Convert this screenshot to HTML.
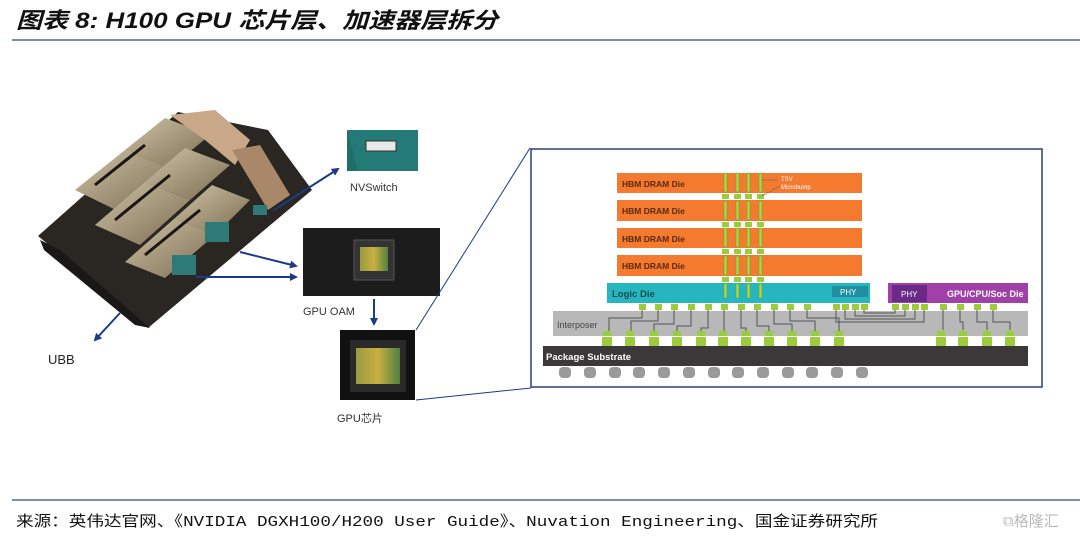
<!DOCTYPE html>
<html><head><meta charset="utf-8"><style>
html,body{margin:0;padding:0;background:#fff;}
body{width:1080px;height:540px;overflow:hidden;position:relative;font-family:"Liberation Sans","Noto Sans CJK SC",sans-serif;}
</style></head><body>
<svg width="1080" height="540" xmlns="http://www.w3.org/2000/svg" style="position:absolute;left:0;top:0">
<defs>
<marker id="ah" markerWidth="8" markerHeight="8" refX="6" refY="4" orient="auto" markerUnits="userSpaceOnUse"><path d="M0,0 L8,4 L0,8 z" fill="#1a3a8a"/></marker>
<linearGradient id="gold" x1="0" y1="0" x2="1" y2="1"><stop offset="0" stop-color="#cfc3a6"/><stop offset="1" stop-color="#7a6c50"/></linearGradient>
<linearGradient id="die" x1="0" y1="0" x2="1" y2="0"><stop offset="0" stop-color="#9a9a40"/><stop offset="0.5" stop-color="#c8b040"/><stop offset="1" stop-color="#508040"/></linearGradient>
</defs>
<text x="16" y="28" font-size="22" font-weight="bold" font-style="italic" fill="#111" textLength="482" lengthAdjust="spacingAndGlyphs" font-family="'Liberation Sans','Noto Sans CJK SC',sans-serif">图表 8: H100 GPU 芯片层、加速器层拆分</text>
<line x1="12" y1="40" x2="1080" y2="40" stroke="#4a6a8a" stroke-width="1.5"/>
<!-- board photo approximation -->
<polygon points="38,236 178,112 268,130 312,190 148,328" fill="#2a2622"/>
<polygon points="40,240 60,250 150,328 135,325 44,250" fill="#1a1816"/>
<polygon points="75,190 125,150 170,168 120,212" fill="url(#gold)"/>
<polygon points="125,150 165,118 210,135 170,168" fill="url(#gold)"/>
<polygon points="95,225 145,182 190,200 140,245" fill="url(#gold)"/>
<polygon points="145,182 185,148 230,165 190,200" fill="url(#gold)"/>
<polygon points="125,262 175,218 215,235 165,278" fill="url(#gold)"/>
<polygon points="175,218 212,185 250,200 215,235" fill="url(#gold)"/>
<g stroke="#1a1612" stroke-width="3"><line x1="95" y1="185" x2="145" y2="145"/><line x1="115" y1="220" x2="170" y2="175"/><line x1="145" y1="255" x2="200" y2="210"/></g>
<polygon points="170,115 215,110 250,140 235,165 205,140" fill="#c8a888"/>
<polygon points="232,150 260,145 290,195 268,210" fill="#a88868"/>
<rect x="205" y="222" width="24" height="20" fill="#2e7a78"/>
<rect x="172" y="255" width="24" height="20" fill="#2e7a78"/>
<rect x="253" y="205" width="14" height="10" fill="#2e7a78"/>
<text x="48" y="364" font-size="13" fill="#222">UBB</text>
<line x1="120" y1="313" x2="95" y2="340" stroke="#1a3a8a" stroke-width="2" marker-end="url(#ah)"/>
<!-- NVSwitch -->
<rect x="347" y="130" width="71" height="41" fill="#1f6e6a"/>
<polygon points="347,130 418,130 418,171 358,171" fill="#237a76"/>
<rect x="366" y="141" width="30" height="10" fill="#e8e8e8" stroke="#333"/>
<text x="350" y="191" font-size="11" fill="#333">NVSwitch</text>
<line x1="274" y1="210" x2="338" y2="169" stroke="#1a3a8a" stroke-width="2" marker-end="url(#ah)"/>
<!-- GPU OAM -->
<rect x="303" y="228" width="137" height="68" fill="#1c1c1c"/>
<rect x="354" y="240" width="40" height="40" fill="#333" stroke="#555"/>
<rect x="360" y="247" width="28" height="24" fill="url(#die)"/>
<text x="303" y="315" font-size="11" fill="#333">GPU OAM</text>
<line x1="240" y1="252" x2="296" y2="266" stroke="#1a3a8a" stroke-width="2" marker-end="url(#ah)"/>
<line x1="196" y1="277" x2="296" y2="277" stroke="#1a3a8a" stroke-width="2" marker-end="url(#ah)"/>
<line x1="374" y1="299" x2="374" y2="324" stroke="#1a3a8a" stroke-width="2" marker-end="url(#ah)"/>
<!-- GPU chip -->
<rect x="340" y="330" width="75" height="70" fill="#111"/>
<rect x="350" y="340" width="56" height="52" fill="#2a2a2a"/>
<rect x="356" y="348" width="44" height="36" fill="url(#die)"/>
<text x="337" y="422" font-size="11" fill="#333">GPU芯片</text>
<line x1="416" y1="330" x2="530" y2="148" stroke="#1a3a8a" stroke-width="1"/>
<line x1="416" y1="400" x2="531" y2="388" stroke="#1a3a8a" stroke-width="1"/>
<!-- right box -->
<rect x="531" y="149" width="511" height="238" fill="#fff" stroke="#2a3f7a" stroke-width="1.5"/>
<rect x="543" y="346" width="485" height="20" fill="#3a3838"/>
<text x="546" y="360" font-size="9.5" font-weight="bold" fill="#fff">Package Substrate</text>
<g fill="#9a9a9a">
<rect x="559" y="367" width="12" height="11" rx="4"/><rect x="584" y="367" width="12" height="11" rx="4"/><rect x="609" y="367" width="12" height="11" rx="4"/><rect x="633" y="367" width="12" height="11" rx="4"/><rect x="658" y="367" width="12" height="11" rx="4"/><rect x="683" y="367" width="12" height="11" rx="4"/><rect x="708" y="367" width="12" height="11" rx="4"/><rect x="732" y="367" width="12" height="11" rx="4"/><rect x="757" y="367" width="12" height="11" rx="4"/><rect x="782" y="367" width="12" height="11" rx="4"/><rect x="806" y="367" width="12" height="11" rx="4"/><rect x="831" y="367" width="12" height="11" rx="4"/><rect x="856" y="367" width="12" height="11" rx="4"/>
</g>
<rect x="553" y="311" width="475" height="25" fill="#b8b8b8"/>
<text x="557" y="328" font-size="9" fill="#444">Interposer</text>
<g stroke="#555" stroke-width="1" fill="none">
<path d="M642,309 V318 H609 V332"/><path d="M658,309 V321 H631 V332"/><path d="M674,309 V324 H654 V332"/><path d="M691,309 V326 H677 V332"/><path d="M708,309 V328 H701 V332"/><path d="M724,309 V332"/><path d="M741,309 V328 H746 V332"/><path d="M757,309 V326 H769 V332"/><path d="M774,309 V324 H792 V332"/><path d="M790,309 V321 H815 V332"/><path d="M807,309 V318 H839 V332"/>
<path d="M836,309 V322 H924 V309"/><path d="M845,309 V319 H915 V309"/><path d="M855,309 V316 H905 V309"/><path d="M864,309 V313 H895 V309"/>
<path d="M943,309 V330"/><path d="M960,309 V322 H963 V330"/><path d="M977,309 V322 H987 V330"/><path d="M993,309 V322 H1010 V330"/>
<path d="M725,290 V302 H836"/>
</g>
<g fill="#9ccc3c">
<rect x="639" y="304" width="7" height="6"/><rect x="655" y="304" width="7" height="6"/><rect x="671" y="304" width="7" height="6"/><rect x="688" y="304" width="7" height="6"/><rect x="705" y="304" width="7" height="6"/><rect x="721" y="304" width="7" height="6"/><rect x="738" y="304" width="7" height="6"/><rect x="754" y="304" width="7" height="6"/><rect x="771" y="304" width="7" height="6"/><rect x="787" y="304" width="7" height="6"/><rect x="804" y="304" width="7" height="6"/>
<rect x="833" y="304" width="7" height="6"/><rect x="842" y="304" width="7" height="6"/><rect x="852" y="304" width="7" height="6"/><rect x="861" y="304" width="7" height="6"/>
<rect x="892" y="304" width="7" height="6"/><rect x="902" y="304" width="7" height="6"/><rect x="912" y="304" width="7" height="6"/><rect x="921" y="304" width="7" height="6"/>
<rect x="940" y="304" width="7" height="6"/><rect x="957" y="304" width="7" height="6"/><rect x="974" y="304" width="7" height="6"/><rect x="990" y="304" width="7" height="6"/>
<rect x="603" y="331" width="8" height="5"/><rect x="626" y="331" width="8" height="5"/><rect x="650" y="331" width="8" height="5"/><rect x="673" y="331" width="8" height="5"/><rect x="697" y="331" width="8" height="5"/><rect x="719" y="331" width="8" height="5"/><rect x="742" y="331" width="8" height="5"/><rect x="765" y="331" width="8" height="5"/><rect x="788" y="331" width="8" height="5"/><rect x="811" y="331" width="8" height="5"/><rect x="835" y="331" width="8" height="5"/>
<rect x="937" y="331" width="8" height="5"/><rect x="959" y="331" width="8" height="5"/><rect x="983" y="331" width="8" height="5"/><rect x="1006" y="331" width="8" height="5"/>
<rect x="602" y="337" width="10" height="9"/><rect x="625" y="337" width="10" height="9"/><rect x="649" y="337" width="10" height="9"/><rect x="672" y="337" width="10" height="9"/><rect x="696" y="337" width="10" height="9"/><rect x="718" y="337" width="10" height="9"/><rect x="741" y="337" width="10" height="9"/><rect x="764" y="337" width="10" height="9"/><rect x="787" y="337" width="10" height="9"/><rect x="810" y="337" width="10" height="9"/><rect x="834" y="337" width="10" height="9"/>
<rect x="936" y="337" width="10" height="9"/><rect x="958" y="337" width="10" height="9"/><rect x="982" y="337" width="10" height="9"/><rect x="1005" y="337" width="10" height="9"/>
</g>
<rect x="607" y="283" width="263" height="20" fill="#26b6c0"/>
<rect x="832" y="286" width="36" height="11" fill="#1e8ea0"/>
<text x="840" y="295" font-size="8" fill="#fff">PHY</text>
<text x="612" y="297" font-size="9.5" font-weight="bold" fill="#1a4a50">Logic Die</text>
<rect x="888" y="283" width="140" height="20" fill="#a040a8"/>
<rect x="892" y="285" width="35" height="17" fill="#6a2a88"/>
<text x="901" y="297" font-size="8" fill="#fff">PHY</text>
<text x="947" y="297" font-size="9" font-weight="bold" fill="#fff">GPU/CPU/Soc Die</text>
<g fill="#f47a30">
<rect x="617" y="173" width="245" height="20"/><rect x="617" y="200" width="245" height="21"/><rect x="617" y="228" width="245" height="20"/><rect x="617" y="255" width="245" height="21"/>
</g>
<g font-size="8.5" font-weight="bold" fill="#5a2a10">
<text x="622" y="187">HBM DRAM Die</text><text x="622" y="214">HBM DRAM Die</text><text x="622" y="242">HBM DRAM Die</text><text x="622" y="269">HBM DRAM Die</text>
</g>
<g fill="#a8d848" stroke="#6a9a20" stroke-width="0.5">
<rect x="724" y="173" width="3" height="19"/><rect x="736" y="173" width="3" height="19"/><rect x="747" y="173" width="3" height="19"/><rect x="759" y="173" width="3" height="19"/>
<rect x="724" y="201" width="3" height="19"/><rect x="736" y="201" width="3" height="19"/><rect x="747" y="201" width="3" height="19"/><rect x="759" y="201" width="3" height="19"/>
<rect x="724" y="228" width="3" height="19"/><rect x="736" y="228" width="3" height="19"/><rect x="747" y="228" width="3" height="19"/><rect x="759" y="228" width="3" height="19"/>
<rect x="724" y="256" width="3" height="19"/><rect x="736" y="256" width="3" height="19"/><rect x="747" y="256" width="3" height="19"/><rect x="759" y="256" width="3" height="19"/>
<rect x="724" y="284" width="3" height="14"/><rect x="736" y="284" width="3" height="14"/><rect x="747" y="284" width="3" height="14"/><rect x="759" y="284" width="3" height="14"/>
</g>
<g fill="#9ccc3c">
<rect x="722" y="194" width="7" height="5"/><rect x="734" y="194" width="7" height="5"/><rect x="745" y="194" width="7" height="5"/><rect x="757" y="194" width="7" height="5"/>
<rect x="722" y="222" width="7" height="5"/><rect x="734" y="222" width="7" height="5"/><rect x="745" y="222" width="7" height="5"/><rect x="757" y="222" width="7" height="5"/>
<rect x="722" y="249" width="7" height="5"/><rect x="734" y="249" width="7" height="5"/><rect x="745" y="249" width="7" height="5"/><rect x="757" y="249" width="7" height="5"/>
<rect x="722" y="277" width="7" height="5"/><rect x="734" y="277" width="7" height="5"/><rect x="745" y="277" width="7" height="5"/><rect x="757" y="277" width="7" height="5"/>
</g>
<g stroke="#666" stroke-width="0.6" fill="none"><path d="M762,180 H778"/><path d="M762,196 L780,186"/></g>
<text x="781" y="181" font-size="6" fill="#fff">TSV</text>
<text x="781" y="189" font-size="6" fill="#fff">Microbump</text>
<line x1="12" y1="500" x2="1080" y2="500" stroke="#4a6a8a" stroke-width="1.5"/>
<text x="16" y="526" font-size="15" fill="#111" font-family="'Liberation Mono','Noto Sans CJK SC',monospace" textLength="862" lengthAdjust="spacingAndGlyphs">来源：英伟达官网、《NVIDIA DGXH100/H200 User Guide》、Nuvation Engineering、国金证券研究所</text>
<text x="1003" y="526" font-size="15" fill="#bbb">⧉格隆汇</text>
</svg>
</body></html>
